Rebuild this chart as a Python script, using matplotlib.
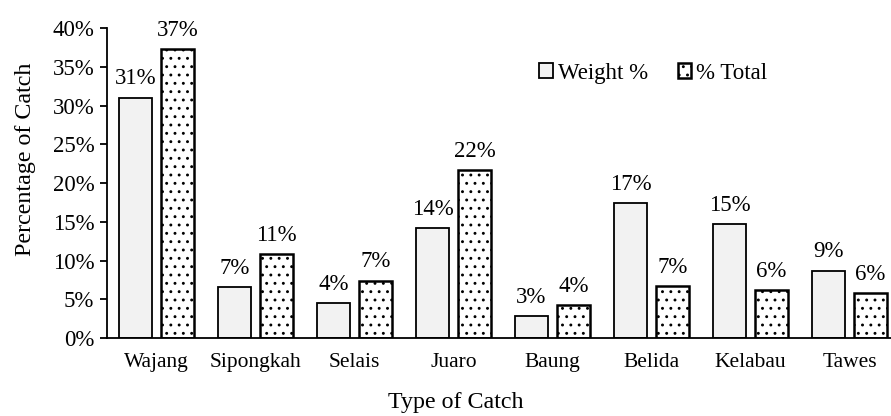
import numpy as np
import matplotlib.pyplot as plt

plt.rcParams['font.family'] = ['Liberation Serif', 'DejaVu Serif']
plt.rcParams['hatch.color'] = '#8c8472'
plt.rcParams['hatch.linewidth'] = 0.9

# data
catches = ['Wajang', 'Sipongkah', 'Selais', 'Juaro', 'Baung', 'Belida', 'Kelabau', 'Tawes']
weight_pct = [31.0, 6.6, 4.5, 14.2, 2.8, 17.4, 14.7, 8.7]
total_pct = [37.3, 10.8, 7.4, 21.7, 4.2, 6.7, 6.2, 5.8]

fs = 16.5

fig = plt.figure(figsize=(8.91, 4.16), dpi=100)
ax = fig.add_axes([0.120, 0.1875, 0.889, 0.745])

x = np.arange(len(catches))
w = 0.333
b1 = ax.bar(x - 0.212, weight_pct, w, color='#f2f2f2', edgecolor='black', linewidth=1.3, label='Weight %')
b2 = ax.bar(x + 0.212, total_pct, w, color='white', edgecolor='black', linewidth=1.8,
            hatch='..', label='% Total')

for bars, vals in [(b1, weight_pct), (b2, total_pct)]:
    for r, v in zip(bars, vals):
        ax.annotate(f'{round(v):.0f}%', (r.get_x() + r.get_width() / 2, v),
                    xytext=(0, 6), textcoords='offset points',
                    ha='center', va='bottom', fontsize=fs)

ax.set_xlim(-0.5, len(catches) - 0.5)
ax.set_ylim(0, 40)
ax.set_yticks(range(0, 41, 5))
ax.set_yticklabels([f'{t}%' for t in range(0, 41, 5)])
ax.set_xticks(x)
ax.set_xticklabels(catches)
ax.tick_params(axis='x', length=0, pad=11, labelsize=15.5)
ax.tick_params(axis='y', length=5, width=1.3, labelsize=16.5, pad=4)
for s in ['top', 'right']:
    ax.spines[s].set_visible(False)
ax.spines['left'].set_linewidth(1.3)
ax.spines['bottom'].set_linewidth(1.3)

ax.set_ylabel('Percentage of Catch', fontsize=17.3)
ax.yaxis.set_label_coords(-0.089, 0.577)
ax.set_xlabel('Type of Catch', fontsize=17.3)
ax.xaxis.set_label_coords(0.44, -0.175)

ax.legend(loc='upper left', bbox_to_anchor=(0.52, 0.955), ncol=2, frameon=False,
          fontsize=fs, handlelength=0.6, handleheight=0.6, handletextpad=0.2,
          columnspacing=1.3)

fig.savefig('out.png', dpi=100)
